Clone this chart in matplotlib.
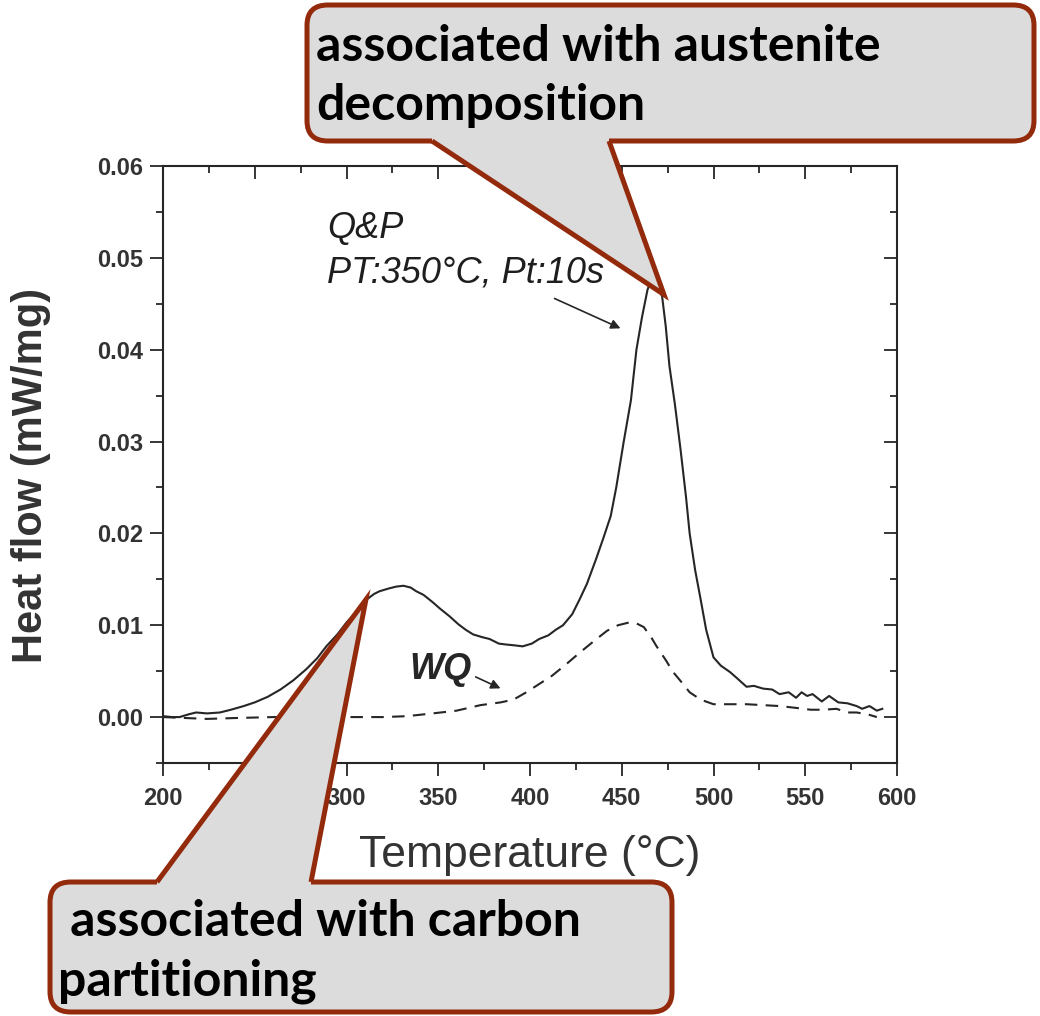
import matplotlib
matplotlib.use("Agg")
import matplotlib.pyplot as plt
from matplotlib.patches import FancyBboxPatch, Polygon
from matplotlib.lines import Line2D

plt.rcParams['font.family'] = ['Liberation Sans', 'DejaVu Sans']

# DSC traces, heat flow (mW/mg) vs temperature (C)
qp_temp = [200, 205, 209, 214, 218, 224, 231, 237, 244, 250, 257, 264, 271, 278,
           284, 289, 295, 300, 306, 311, 315, 318, 323, 327, 331, 335, 338, 342,
           347, 351, 356, 361, 365, 369, 374, 378, 383, 387, 392, 396, 401, 405,
           410, 414, 418, 423, 427, 431, 436, 440, 444, 447, 451, 455, 458, 461,
           464, 466, 469, 472, 474, 476, 479, 482, 485, 487, 490, 493, 496, 500,
           504, 509, 513, 518, 522, 527, 532, 536, 541, 545, 548, 551, 554, 559,
           563, 568, 573, 578, 581, 585, 589, 592]
qp_flow = [0.0001, 0.0000, 0.0000, 0.0003, 0.0005, 0.0004, 0.0005, 0.0008, 0.0012,
           0.0016, 0.0022, 0.0030, 0.0040, 0.0052, 0.0064, 0.0077, 0.0090, 0.0103,
           0.0116, 0.0128, 0.0134, 0.0137, 0.0140, 0.0142, 0.0143, 0.0141, 0.0137,
           0.0133, 0.0125, 0.0118, 0.0110, 0.0101, 0.0095, 0.0090, 0.0087, 0.0085,
           0.0080, 0.0079, 0.0078, 0.0077, 0.0080, 0.0085, 0.0089, 0.0095, 0.0100,
           0.0112, 0.0128, 0.0145, 0.0172, 0.0195, 0.0219, 0.0250, 0.0299, 0.0345,
           0.0400, 0.0435, 0.0465, 0.0476, 0.0472, 0.0458, 0.0425, 0.0382, 0.0340,
           0.0292, 0.0240, 0.0200, 0.0160, 0.0128, 0.0095, 0.0065, 0.0056, 0.0049,
           0.0042, 0.0033, 0.0034, 0.0031, 0.0030, 0.0025, 0.0027, 0.0021, 0.0027,
           0.0023, 0.0025, 0.0017, 0.0023, 0.0016, 0.0015, 0.0012, 0.0009, 0.0012,
           0.0007, 0.0009]

wq_temp = [200, 212, 224, 240, 260, 280, 305, 320, 333, 347, 360, 373, 384, 391,
           398, 405, 412, 420, 427, 435, 442, 448, 454, 458, 462, 466, 469, 474,
           478, 483, 487, 493, 500, 509, 518, 527, 536, 545, 553, 560, 567, 573,
           578, 584, 589]
wq_flow = [0.0000, -0.0001, -0.0002, -0.0001, 0.0000, 0.0000, 0.0000, 0.0000, 0.0001,
           0.0004, 0.0007, 0.0013, 0.0016, 0.0019, 0.0027, 0.0036, 0.0045, 0.0058,
           0.0070, 0.0083, 0.0094, 0.0100, 0.0103, 0.0102, 0.0098, 0.0087, 0.0077,
           0.0062, 0.0049, 0.0037, 0.0027, 0.0019, 0.0014, 0.0014, 0.0014, 0.0013,
           0.0012, 0.0010, 0.0008, 0.0008, 0.0009, 0.0005, 0.0005, 0.0003, 0.0000]

x_ticks = [200, 250, 300, 350, 400, 450, 500, 550, 600]
y_ticks = [0.00, 0.01, 0.02, 0.03, 0.04, 0.05, 0.06]

W, H = 1040, 1016
fig = plt.figure(figsize=(W / 100, H / 100), dpi=100)
ax = fig.add_axes([163 / W, 1 - 763 / H, (897 - 163) / W, (763 - 166) / H])

ink = '#262626'
ax.plot(qp_temp, qp_flow, color=ink, lw=1.5)
ax.plot(wq_temp, wq_flow, color=ink, lw=1.5, linestyle=(0, (6, 4)))

ax.set_xlim(200, 600)
ax.set_ylim(-0.005, 0.06)
ax.set_xticks(x_ticks)
ax.set_yticks(y_ticks)
ax.set_xticks([t + 25 for t in x_ticks[:-1]], minor=True)
ax.set_yticks([-0.005] + [t + 0.005 for t in y_ticks[:-1]], minor=True)
ax.yaxis.set_major_formatter(matplotlib.ticker.FormatStrFormatter('%.2f'))

for s in ax.spines.values():
    s.set_linewidth(1.5)
    s.set_color(ink)
ax.tick_params(which='major', direction='out', length=9.5, width=1.3, color=ink,
               labelsize=17, labelcolor='#333333', pad=5)
ax.tick_params(which='minor', direction='out', length=5, width=1.3, color=ink)
ax.tick_params(axis='x', which='major', pad=8)
for lab in ax.get_xticklabels() + ax.get_yticklabels():
    lab.set_fontweight('bold')

# mirrored ticks on top and right point into the frame
top = ax.twiny()
right = ax.twinx()
top.set_xlim(ax.get_xlim())
right.set_ylim(ax.get_ylim())
top.set_xticks(ax.get_xticks())
top.set_xticks(ax.get_xticks(minor=True), minor=True)
right.set_yticks(ax.get_yticks())
right.set_yticks(ax.get_yticks(minor=True), minor=True)
for a in (top, right):
    a.tick_params(which='major', direction='in', length=9.5, width=1.3, color=ink,
                  labeltop=False, labelright=False)
    a.tick_params(which='minor', direction='in', length=5, width=1.3, color=ink)
    for s in a.spines.values():
        s.set_visible(False)

ax.set_xlabel('Temperature (°C)', fontsize=32, color='#333333', labelpad=18)
ax.set_ylabel('Heat flow (mW/mg)', fontsize=30, fontweight='bold', color='#333333')
ax.yaxis.set_label_coords(-0.152, 0.481)

ax.text(289.5, 0.0522, 'Q&P', fontsize=26, style='italic', color='#1e1e1e')
ax.text(289.5, 0.0473, 'PT:350°C, Pt:10s', fontsize=26, style='italic', color='#1e1e1e')
ax.text(334.5, 0.0041, 'WQ', fontsize=26, style='italic', fontweight='bold', color=ink)
ax.annotate('', xy=(450.7, 0.0422), xytext=(412, 0.0457),
            arrowprops=dict(arrowstyle='-|>', color=ink, lw=1.2, mutation_scale=14))
ax.annotate('', xy=(385.3, 0.0030), xytext=(369, 0.0045),
            arrowprops=dict(arrowstyle='-|>', color=ink, lw=1.2, mutation_scale=14))

edge = '#932a0c'
fill = '#dcdcdc'


def px(x, y):
    return x / W, 1 - y / H


def callout(x0, y0, x1, y1, base_l, base_r, tip_data, text, tx, ty):
    # rounded box in image pixels, wedge pointing to a data location
    box = FancyBboxPatch(px(x0, y1), (x1 - x0) / W, (y1 - y0) / H,
                         boxstyle='round,pad=0,rounding_size=0.02',
                         transform=fig.transFigure, facecolor=fill,
                         edgecolor=edge, lw=3.6, zorder=5)
    fig.add_artist(box)
    tip = fig.transFigure.inverted().transform(ax.transData.transform(tip_data))
    by = base_l[1]
    inner = 6 if by <= y0 + 1 else -6
    wedge = Polygon([px(base_l[0], by + inner), px(*base_l), tip, px(*base_r),
                     px(base_r[0], by + inner)], closed=True,
                    transform=fig.transFigure, facecolor=fill, edgecolor='none', zorder=6)
    fig.add_artist(wedge)
    xs = [px(*base_l)[0], tip[0], px(*base_r)[0]]
    ys = [px(*base_l)[1], tip[1], px(*base_r)[1]]
    fig.add_artist(Line2D(xs, ys, transform=fig.transFigure, color=edge, lw=3.6,
                          solid_joinstyle='miter', solid_capstyle='butt', zorder=7))
    fig.text(*px(tx, ty), text, fontsize=36, fontweight='bold', family='Lato',
             color='black', va='top', ha='left', linespacing=1.39, zorder=8)


callout(307, 5, 1034, 141, (432, 141), (609, 141), (473, 0.046),
        'associated with austenite\ndecomposition', 316, 24)
callout(50, 882, 672, 1012, (157, 882), (311, 882), (310.6, 0.0128),
        ' associated with carbon\npartitioning', 58, 899)

fig.savefig('out.png', dpi=100)
